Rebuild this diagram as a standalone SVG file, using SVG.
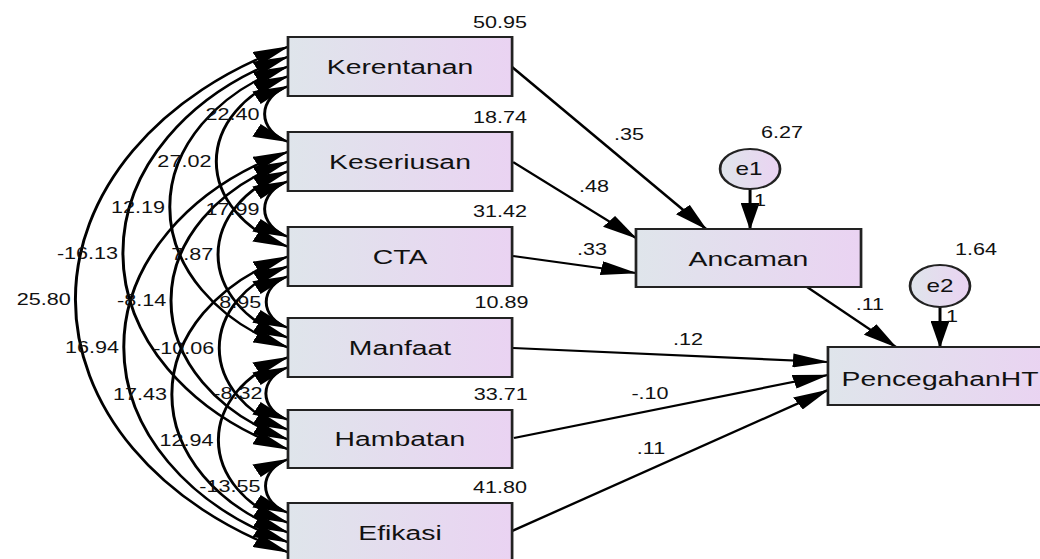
<svg xmlns="http://www.w3.org/2000/svg" width="1040" height="559" viewBox="0 0 1040 559">
<style>
.box{stroke:#222;stroke-width:2;fill:url(#gr)}
.ell{stroke:#222;stroke-width:2;fill:url(#gr)}
.lbl{font-family:"Liberation Sans",Arial,sans-serif;font-size:21px;fill:#111;text-anchor:middle}
.num{font-family:"Liberation Sans",Arial,sans-serif;font-size:16px;fill:#111;text-anchor:middle}
.cov{font-family:"Liberation Sans",Arial,sans-serif;font-size:16px;fill:#111;text-anchor:end}
.ln{fill:none;stroke:#000;stroke-width:2.2;marker-end:url(#ah)}
.arc{fill:none;stroke:#000;stroke-width:2.2;marker-start:url(#ah);marker-end:url(#ah)}
</style>
<defs>
<linearGradient id="gr" x1="0" y1="0" x2="1" y2="0">
<stop offset="0" stop-color="#dfe5eb"/>
<stop offset="1" stop-color="#ead3f2"/>
</linearGradient>
<marker id="ah" markerUnits="userSpaceOnUse" markerWidth="27" markerHeight="14" refX="26" refY="7" orient="auto-start-reverse" viewBox="0 0 27 14">
<path d="M0,0 L27,7 L0,14 z" fill="#000"/>
</marker>
</defs>
<rect width="1040" height="559" fill="#fff"/>
<g transform="scale(1.35,1)">
<g id="connectors">
<path class="arc" d="M213.33,86.2 A30.97,30.97 0 0 0 213.33,141.8"/>
<path class="arc" d="M213.33,76.3 A94.9,94.9 0 0 0 213.33,246.7"/>
<path class="arc" d="M213.33,66.5 A156.5,156.5 0 0 0 213.33,347.5"/>
<path class="arc" d="M213.33,56.7 A218.7,218.7 0 0 0 213.33,449.3"/>
<path class="arc" d="M213.33,46.8 A281.5,281.5 0 0 0 213.33,552.2"/>
<path class="arc" d="M213.33,181.2 A30.97,30.97 0 0 0 213.33,236.8"/>
<path class="arc" d="M213.33,171.3 A92.7,92.7 0 0 0 213.33,337.7"/>
<path class="arc" d="M213.33,161.5 A154.8,154.8 0 0 0 213.33,439.5"/>
<path class="arc" d="M213.33,151.7 A217.6,217.6 0 0 0 213.33,542.3"/>
<path class="arc" d="M213.33,276.2 A28.7,28.7 0 0 0 213.33,327.8"/>
<path class="arc" d="M213.33,266.3 A91,91 0 0 0 213.33,429.7"/>
<path class="arc" d="M213.33,256.5 A153.7,153.7 0 0 0 213.33,532.5"/>
<path class="arc" d="M213.33,367.2 A29.3,29.3 0 0 0 213.33,419.8"/>
<path class="arc" d="M213.33,357.3 A92.1,92.1 0 0 0 213.33,522.7"/>
<path class="arc" d="M213.33,459.2 A29.9,29.9 0 0 0 213.33,512.8"/>
<path class="ln" d="M379.3,67 L523,229"/>
<path class="ln" d="M380,162 L471.1,238"/>
<path class="ln" d="M380,256 L471.1,273"/>
<path class="ln" d="M597.8,287 L663.7,347"/>
<path class="ln" d="M380,348 L613.3,362"/>
<path class="ln" d="M380.7,438 L613.3,375"/>
<path class="ln" d="M379.3,531 L613.3,390"/>
<path class="ln" d="M555.6,189 L555.6,229"/>
<path class="ln" d="M696.3,307 L696.3,347"/>
<text class="cov" x="192.3" y="120">22.40</text>
<text class="cov" x="156.6" y="167.5">27.02</text>
<text class="cov" x="122.2" y="213">12.19</text>
<text class="cov" x="87.5" y="259">-16.13</text>
<text class="cov" x="52.4" y="305.5">25.80</text>
<text class="cov" x="192.3" y="215">17.99</text>
<text class="cov" x="157.9" y="260.5">7.87</text>
<text class="cov" x="123.1" y="306.5">-8.14</text>
<text class="cov" x="88.1" y="353">16.94</text>
<text class="cov" x="193.6" y="308">8.95</text>
<text class="cov" x="158.8" y="354">-10.06</text>
<text class="cov" x="123.8" y="400.5">17.43</text>
<text class="cov" x="194.5" y="399.5">-8.32</text>
<text class="cov" x="158.1" y="446">12.94</text>
<text class="cov" x="193" y="492">-13.55</text>
<text class="num" x="465.9" y="140">.35</text>
<text class="num" x="440" y="192">.48</text>
<text class="num" x="438.5" y="255">.33</text>
<text class="num" x="644.4" y="310">.11</text>
<text class="num" x="509.6" y="345">.12</text>
<text class="num" x="481.5" y="399">-.10</text>
<text class="num" x="482.2" y="454">.11</text>
<text class="num" x="563" y="206">1</text>
<text class="num" x="705.2" y="322">1</text>
</g>
<g id="Kerentanan">
<rect class="box" x="213.33" y="37" width="166" height="59"/>
<text class="lbl" x="296.3" y="74">Kerentanan</text>
<text class="num" x="370.4" y="28">50.95</text>
</g>
<g id="Keseriusan">
<rect class="box" x="213.33" y="132" width="166" height="59"/>
<text class="lbl" x="296.3" y="169">Keseriusan</text>
<text class="num" x="370.4" y="123">18.74</text>
</g>
<g id="CTA">
<rect class="box" x="213.33" y="227" width="166" height="59"/>
<text class="lbl" x="296.3" y="264">CTA</text>
<text class="num" x="370.4" y="217">31.42</text>
</g>
<g id="Manfaat">
<rect class="box" x="213.33" y="318" width="166" height="59"/>
<text class="lbl" x="296.3" y="355">Manfaat</text>
<text class="num" x="371.5" y="308">10.89</text>
</g>
<g id="Hambatan">
<rect class="box" x="213.33" y="410" width="166" height="58"/>
<text class="lbl" x="296.3" y="446">Hambatan</text>
<text class="num" x="371" y="400">33.71</text>
</g>
<g id="Efikasi">
<rect class="box" x="213.33" y="503" width="166" height="59"/>
<text class="lbl" x="296.3" y="540">Efikasi</text>
<text class="num" x="370.4" y="493">41.80</text>
</g>
<g id="Ancaman">
<rect class="box" x="471.1" y="229" width="166.7" height="58"/>
<text class="lbl" x="554.4" y="266">Ancaman</text>
</g>
<g id="PencegahanHT">
<rect class="box" x="613.3" y="347" width="166" height="58"/>
<text class="lbl" x="696.3" y="386">PencegahanHT</text>
</g>
<g id="e1">
<ellipse class="ell" cx="555.6" cy="169" rx="22.2" ry="20"/>
<text class="lbl" style="font-size:18px" x="554.8" y="175">e1</text>
<text class="num" x="579.3" y="138">6.27</text>
</g>
<g id="e2">
<ellipse class="ell" cx="696.3" cy="286" rx="22.2" ry="21"/>
<text class="lbl" style="font-size:18px" x="696.3" y="292">e2</text>
<text class="num" x="723" y="255">1.64</text>
</g>
</g>
</svg>
